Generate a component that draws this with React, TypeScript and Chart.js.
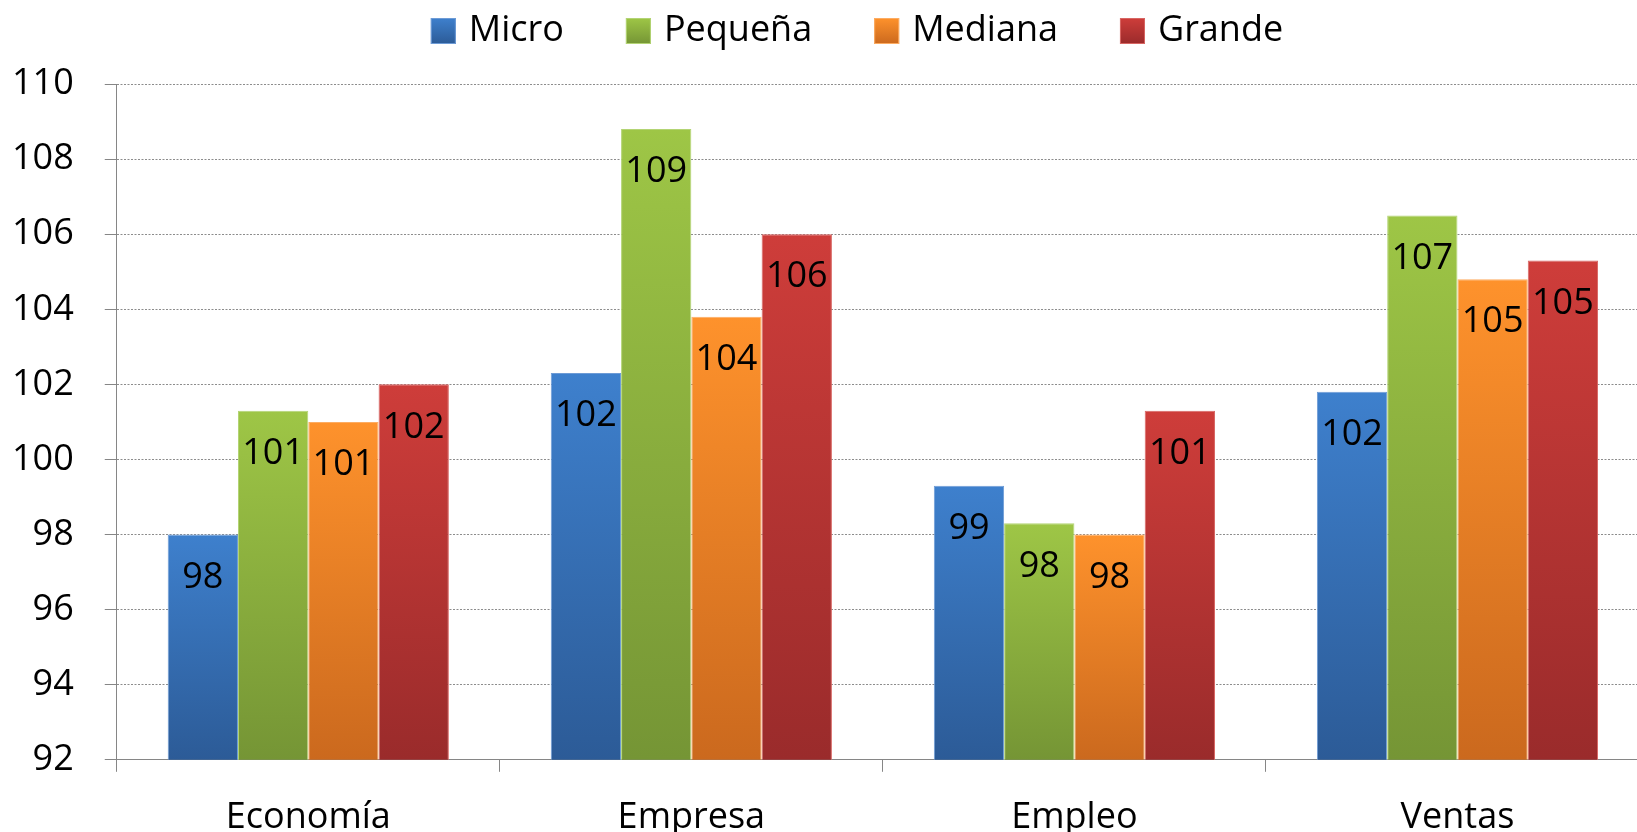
import React, { useEffect, useRef } from 'react';
import { Chart, registerables } from 'chart.js';

Chart.register(...registerables);

const categories = ['Economía', 'Empresa', 'Empleo', 'Ventas'];
const seriesNames = ['Micro', 'Pequeña', 'Mediana', 'Grande'];
const micro = [98.0, 102.3, 99.3, 101.8];
const pequena = [101.3, 108.8, 98.3, 106.5];
const mediana = [101.0, 103.8, 98.0, 104.8];
const grande = [102.0, 106.0, 101.3, 105.3];
const yMin = 92;
const yMax = 110;
const yStep = 2;

const FONT = '"Open Sans", "Noto Sans", sans-serif';
const FONT_SIZE = 36;

const topColors = ['#3e80cd', '#9ec646', '#fe922c', '#ce3d3a'];
const bottomColors = ['#2c5b97', '#759535', '#cb691e', '#9a2b2b'];
const edgeColors = ['#6d9bd6', '#b3d474', '#fdac62', '#d86663'];

const seriesValues = [micro, pequena, mediana, grande];

function makeGradient(chart: any, i: number, yTop: number, yBot: number) {
  const g = chart.ctx.createLinearGradient(0, yTop, 0, yBot);
  g.addColorStop(0, topColors[i]);
  g.addColorStop(1, bottomColors[i]);
  return g;
}

const valueLabelPlugin = {
  id: 'valueLabels',
  afterDatasetsDraw(chart: any) {
    const ctx = chart.ctx;
    ctx.save();
    ctx.font = `${FONT_SIZE}px ${FONT}`;
    ctx.fillStyle = '#000';
    ctx.textAlign = 'center';
    ctx.textBaseline = 'middle';
    chart.data.datasets.forEach((ds: any, i: number) => {
      const meta = chart.getDatasetMeta(i);
      meta.data.forEach((bar: any, j: number) => {
        const v = ds.data[j];
        ctx.fillText(String(Math.round(v)), bar.x, bar.y + 43);
      });
    });
    ctx.restore();
  },
};

const legendPlugin = {
  id: 'customLegend',
  afterDraw(chart: any) {
    const ctx = chart.ctx;
    ctx.save();
    ctx.font = `${FONT_SIZE}px ${FONT}`;
    const boxW = 25;
    const boxH = 26;
    const gapBox = 13;
    const gapItem = 62;
    const centerX = 857;
    const centerY = 31;
    const ds = chart.data.datasets;
    const widths = ds.map((d: any) => boxW + gapBox + ctx.measureText(d.label).width);
    const total = widths.reduce((a: number, b: number) => a + b, 0) + gapItem * (ds.length - 1);
    let x = centerX - total / 2;
    ds.forEach((d: any, i: number) => {
      const top = centerY - boxH / 2;
      ctx.fillStyle = makeGradient(chart, i, top, top + boxH);
      ctx.fillRect(x, top, boxW, boxH);
      ctx.strokeStyle = edgeColors[i];
      ctx.lineWidth = 1;
      ctx.strokeRect(x + 0.5, top + 0.5, boxW - 1, boxH - 1);
      ctx.fillStyle = '#000';
      ctx.textAlign = 'left';
      ctx.textBaseline = 'middle';
      ctx.fillText(d.label, x + boxW + gapBox, centerY);
      x += widths[i] + gapItem;
    });
    ctx.restore();
  },
};

export default function App() {
  const canvasRef = useRef<HTMLCanvasElement | null>(null);

  useEffect(() => {
    if (!canvasRef.current) return;
    const chart = new Chart(canvasRef.current, {
      type: 'bar',
      data: {
        labels: categories,
        datasets: seriesNames.map((name, i) => ({
          label: name,
          data: seriesValues[i],
          backgroundColor: (c: any) => {
            const ch = c.chart;
            if (!ch.chartArea || c.type !== 'data') return topColors[i];
            const ys = ch.scales.y;
            const yTop = ys.getPixelForValue(c.raw);
            const yBot = ys.getPixelForValue(yMin);
            return makeGradient(ch, i, yTop, yBot);
          },
          borderColor: edgeColors[i],
          borderWidth: 1,
          barPercentage: 1,
          categoryPercentage: 0.734,
        })),
      },
      options: {
        responsive: false,
        animation: false,
        devicePixelRatio: 1,
        layout: { padding: { top: 84, left: -19, right: 1, bottom: 0 } },
        plugins: {
          legend: { display: false },
          tooltip: { enabled: false },
        },
        scales: {
          x: {
            grid: {
              display: true,
              drawOnChartArea: false,
              drawTicks: true,
              tickLength: 12,
              color: '#868686',
              tickColor: '#868686',
              offset: true,
            },
            border: { color: '#868686', width: 1 },
            ticks: {
              font: { family: FONT, size: FONT_SIZE },
              color: '#000',
              padding: 24,
            },
          },
          y: {
            min: yMin,
            max: yMax,
            ticks: {
              stepSize: yStep,
              font: { family: FONT, size: FONT_SIZE },
              color: '#000',
              padding: 31,
            },
            grid: {
              color: '#8c8c8c',
              tickColor: '#868686',
              tickLength: 12,
              lineWidth: 1,
            },
            border: { color: '#868686', width: 1, dash: [2, 1.5] },
          },
        },
      },
      plugins: [valueLabelPlugin, legendPlugin],
    });
    return () => chart.destroy();
  }, []);

  return (
    <div
      style={{
        position: 'fixed',
        left: 0,
        top: 0,
        width: 1637,
        height: 832,
        overflow: 'hidden',
        background: '#fff',
      }}
    >
      <canvas
        ref={canvasRef}
        width={1650}
        height={863}
        style={{ width: 1650, height: 863, display: 'block' }}
      />
    </div>
  );
}
